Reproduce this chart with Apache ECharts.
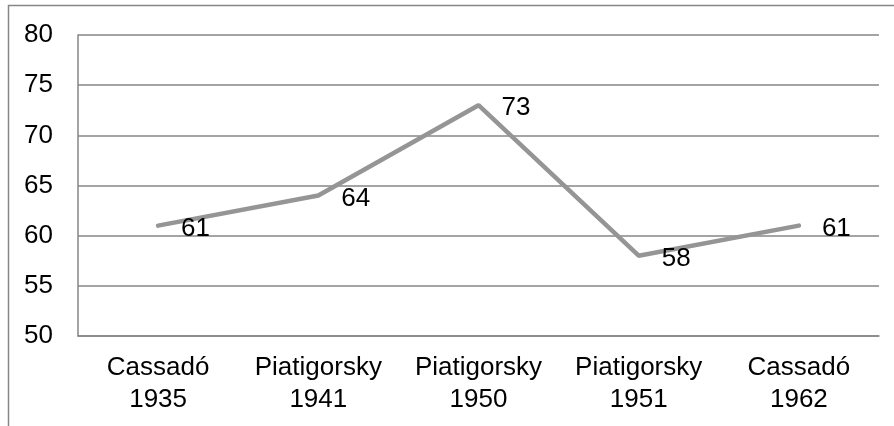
<!DOCTYPE html>
<html>
<head>
<meta charset="utf-8">
<script src="https://cdn.jsdelivr.net/npm/echarts@6/dist/echarts.min.js"></script>
<style>
  html, body { margin: 0; padding: 0; background: #fff; }
  #main { width: 894px; height: 426px; }
</style>
</head>
<body>
<div id="main"></div>
<script>
// 演奏者 / 年份
var categories = ["Cassadó\n1935", "Piatigorsky\n1941", "Piatigorsky\n1950", "Piatigorsky\n1951", "Cassadó\n1962"];
var values = [61, 64, 73, 58, 61];

var chart = echarts.init(document.getElementById("main"));

var option = {
  animation: false,
  textStyle: { fontFamily: "Liberation Sans, Arial, sans-serif" },
  graphic: [
    {
      type: "rect",
      shape: { x: 8.5, y: 5.5, width: 900, height: 430 },
      style: { fill: "none", stroke: "#868686", lineWidth: 1.5 },
      silent: true
    }
  ],
  grid: { left: 78, right: 15, top: 35, bottom: 90 },
  xAxis: {
    type: "category",
    data: categories,
    boundaryGap: true,
    axisLine: { show: true, lineStyle: { color: "#868686", width: 1.5 } },
    axisTick: { show: false },
    axisLabel: { interval: 0, hideOverlap: false, color: "#000", fontSize: 26, lineHeight: 32, margin: 16 }
  },
  yAxis: {
    type: "value",
    min: 50,
    max: 80,
    interval: 5,
    axisLine: { show: true, lineStyle: { color: "#868686", width: 1.5 } },
    axisTick: { show: false },
    splitLine: { show: true, lineStyle: { color: "#868686", width: 1.5 } },
    axisLabel: { color: "#000", fontSize: 26, margin: 25 }
  },
  series: [
    {
      type: "line",
      data: values,
      symbol: "circle",
      symbolSize: 2,
      showSymbol: true,
      itemStyle: { color: "transparent" },
      lineStyle: { color: "#959595", width: 4.5, cap: "round" },
      label: {
        show: true,
        position: "right",
        distance: 22,
        offset: [0, 3],
        color: "#000",
        fontSize: 26
      }
    }
  ]
};

chart.setOption(option);
</script>
</body>
</html>
